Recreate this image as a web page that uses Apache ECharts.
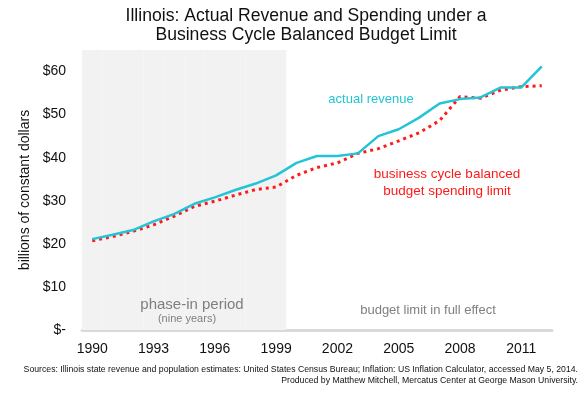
<!DOCTYPE html>
<html>
<head>
<meta charset="utf-8">
<script src="https://cdn.jsdelivr.net/npm/echarts@6/dist/echarts.min.js"></script>
<style>
  html, body { margin: 0; padding: 0; background: #fff; }
  #chart { width: 585px; height: 397px; }
</style>
</head>
<body>
<div id="chart"></div>
<script>
// data (billions of constant dollars)
var years = ['1990', '1991', '1992', '1993', '1994', '1995', '1996', '1997', '1998', '1999', '2000',
  '2001', '2002', '2003', '2004', '2005', '2006', '2007', '2008', '2009', '2010', '2011', '2012'];
var revenue = [21.1, 22.1, 23.2, 25.2, 26.9, 29.3, 30.8, 32.5, 34.0, 35.9, 38.8,
  40.4, 40.4, 41.0, 45.0, 46.6, 49.3, 52.6, 53.6, 54.0, 56.3, 56.3, 61.2];
var spendingLimit = [20.7, 21.7, 22.9, 24.4, 26.4, 28.7, 29.9, 31.3, 32.6, 33.2, 35.9,
  37.7, 38.8, 41.0, 42.1, 43.9, 45.8, 48.6, 54.2, 53.8, 55.7, 56.5, 56.7];
// shaded phase-in years
var phaseIn = [65, 65, 65, 65, 65, 65, 65, 65, 65, 65, null,
  null, null, null, null, null, null, null, null, null, null, null, null];

var font = 'Liberation Sans, Arial, sans-serif';
var cyan = '#22c4d6';
var red = '#ff1a1a';
var grey = '#7f7f7f';

var myChart = echarts.init(document.getElementById('chart'));

var option = {
    backgroundColor: '#fff',
    animation: false,
    title: {
        text: 'Illinois: Actual Revenue and Spending under a\nBusiness Cycle Balanced Budget Limit',
        left: 301,
        textAlign: 'center',
        top: 2,
        textStyle: {
            fontFamily: font,
            fontSize: 17.6,
            fontWeight: 'normal',
            color: '#111',
            lineHeight: 19
        }
    },
    grid: {
        left: 82,
        right: 33,
        top: 50,
        bottom: 67
    },
    xAxis: {
        type: 'category',
        data: years,
        boundaryGap: true,
        axisLine: { show: true, lineStyle: { color: '#d9d9d9', width: 3 } },
        axisTick: { show: false },
        axisLabel: {
            interval: 2,
            margin: 12,
            fontFamily: font,
            fontSize: 14,
            color: '#111'
        },
        splitLine: { show: false }
    },
    yAxis: {
        type: 'value',
        min: 0,
        max: 65,
        interval: 10,
        name: 'billions of constant dollars',
        nameLocation: 'middle',
        nameGap: 44,
        nameTextStyle: { fontFamily: font, fontSize: 14, color: '#111' },
        axisLine: { show: false },
        axisTick: { show: false },
        splitLine: { show: false },
        axisLabel: {
            showMaxLabel: false,
            margin: 16,
            fontFamily: font,
            fontSize: 14,
            color: '#111',
            formatter: function (v) {
                return v === 0 ? '$-' : '$' + v;
            }
        }
    },
    series: [
        {
            name: 'phase-in period',
            type: 'bar',
            data: phaseIn,
            barCategoryGap: '0%',
            silent: true,
            itemStyle: { color: '#f2f2f2' },
            z: 1
        },
        {
            name: 'business cycle balanced budget spending limit',
            type: 'line',
            data: spendingLimit,
            showSymbol: false,
            lineStyle: { color: red, width: 3, type: [3, 4] },
            z: 3
        },
        {
            name: 'actual revenue',
            type: 'line',
            data: revenue,
            showSymbol: false,
            lineStyle: { color: cyan, width: 2.5 },
            z: 4
        }
    ],
    graphic: [
        { type: 'text', z: 100, x: 371, y: 99, style: { text: 'actual revenue', font: '13px ' + font, fill: cyan, textAlign: 'center', textVerticalAlign: 'middle' } },
        { type: 'text', z: 100, x: 447, y: 182.5, style: { text: 'business cycle balanced\nbudget spending limit', font: '13.5px ' + font, fill: red, textAlign: 'center', textVerticalAlign: 'middle', lineHeight: 17 } },
        { type: 'text', z: 100, x: 192, y: 305, style: { text: 'phase-in period', font: '15px ' + font, fill: grey, textAlign: 'center', textVerticalAlign: 'middle' } },
        { type: 'text', z: 100, x: 187, y: 319, style: { text: '(nine years)', font: '11px ' + font, fill: grey, textAlign: 'center', textVerticalAlign: 'middle' } },
        { type: 'text', z: 100, x: 428, y: 310, style: { text: 'budget limit in full effect', font: '13px ' + font, fill: grey, textAlign: 'center', textVerticalAlign: 'middle' } },
        { type: 'text', z: 100, x: 578, y: 375, style: { text: 'Sources: Illinois state revenue and population estimates: United States Census Bureau; Inflation: US Inflation Calculator, accessed May 5, 2014.\nProduced by Matthew Mitchell, Mercatus Center at George Mason University.', font: '8.7px ' + font, fill: '#111', textAlign: 'right', textVerticalAlign: 'middle', lineHeight: 10.5 } }
    ]
};

myChart.setOption(option);
window.addEventListener('resize', function () {
    myChart.resize();
});
</script>
</body>
</html>
